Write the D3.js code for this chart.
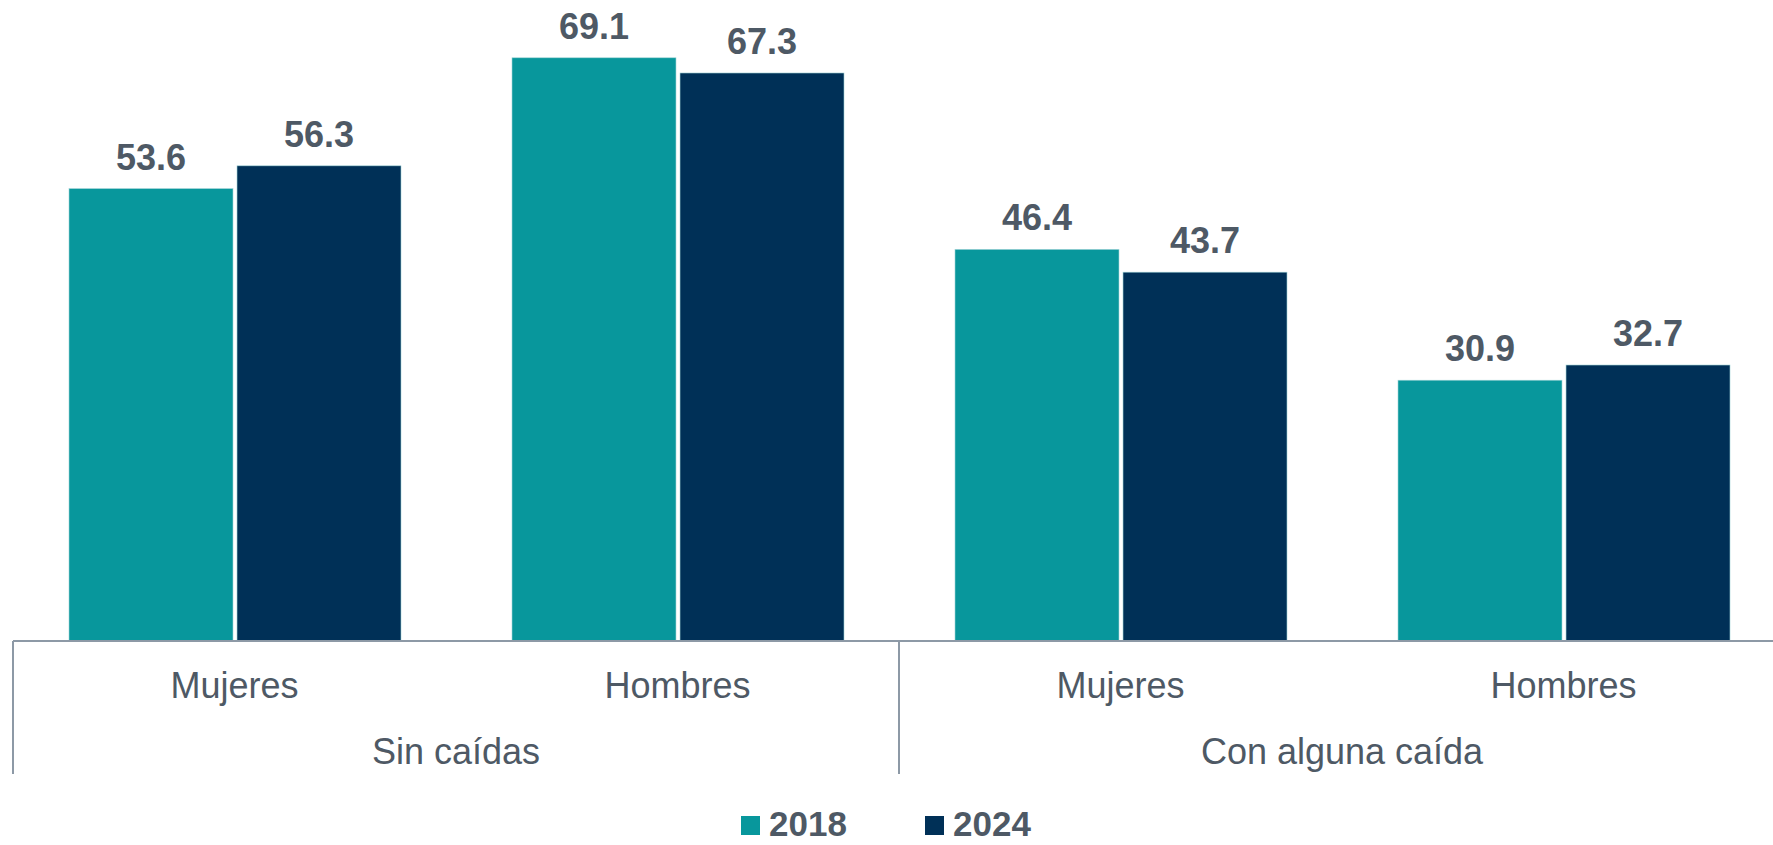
<!DOCTYPE html>
<html>
<head>
<meta charset="utf-8">
<script src="https://cdn.jsdelivr.net/npm/d3@7"></script>
<style>
  html, body { margin: 0; padding: 0; background: #fff; }
  svg { display: block; font-family: Arial, "Liberation Sans", sans-serif; }
</style>
</head>
<body>
<svg id="chart" width="1773" height="845"></svg>
<script>
// Данные
const groups = ['Sin caídas', 'Con alguna caída'];
const sexes = ['Mujeres', 'Hombres'];
const years = ['2018', '2024'];
const values2018 = [53.6, 69.1, 46.4, 30.9];
const values2024 = [56.3, 67.3, 43.7, 32.7];

const COLORS = { '2018': '#08979c', '2024': '#003057' };
const TEXT_COLOR = '#4e5965';
const AXIS_COLOR = '#8d99a6';

const width = 1773;
const plotRight = 1785; // область графика немного выходит за правый край
const axisY = 641;
const left = 13;

const svg = d3.select('#chart');

// Категории: группа × пол
const categories = [];
groups.forEach((g, gi) => sexes.forEach((s, si) => {
    categories.push({ key: g + '|' + s, group: g, sex: s, idx: gi * sexes.length + si });
}));

const x0 = d3.scaleBand()
    .domain(categories.map(c => c.key))
    .range([left, plotRight])
    .padding(0);

const x1 = d3.scaleBand()
    .domain(years)
    .range([56, x0.bandwidth() - 55])
    .paddingInner(0.024);

const y = d3.scaleLinear()
    .domain([0, 69.1])
    .range([axisY, 57.8]);

const seriesValues = { '2018': values2018, '2024': values2024 };

// Столбцы
const catG = svg.selectAll('g.cat')
    .data(categories)
    .join('g')
    .attr('class', 'cat')
    .attr('transform', d => `translate(${x0(d.key)},0)`);

catG.selectAll('rect')
    .data(d => years.map(yr => ({ year: yr, value: seriesValues[yr][d.idx] })))
    .join('rect')
    .attr('x', d => x1(d.year))
    .attr('y', d => y(d.value))
    .attr('width', x1.bandwidth())
    .attr('height', d => axisY - y(d.value))
    .attr('fill', d => COLORS[d.year])
    .attr('stroke', '#9fd3d6')
    .attr('stroke-width', 0.6);

// Подписи значений
catG.selectAll('text.val')
    .data(d => years.map(yr => ({ year: yr, value: seriesValues[yr][d.idx] })))
    .join('text')
    .attr('class', 'val')
    .attr('x', d => x1(d.year) + x1.bandwidth() / 2)
    .attr('y', d => y(d.value) - 19)
    .attr('text-anchor', 'middle')
    .attr('font-size', 36)
    .attr('font-weight', 'bold')
    .attr('fill', TEXT_COLOR)
    .text(d => d.value.toFixed(1));

// Ось
svg.append('line')
    .attr('x1', left).attr('x2', width)
    .attr('y1', axisY).attr('y2', axisY)
    .attr('stroke', AXIS_COLOR)
    .attr('stroke-width', 2);

// Подписи пола
svg.selectAll('text.sex')
    .data(categories)
    .join('text')
    .attr('class', 'sex')
    .attr('x', d => x0(d.key) + x0.bandwidth() / 2)
    .attr('y', 698)
    .attr('text-anchor', 'middle')
    .attr('font-size', 36)
    .attr('fill', TEXT_COLOR)
    .text(d => d.sex);

// Подписи групп и разделители
const groupSpan = x0.bandwidth() * sexes.length;
svg.selectAll('text.group')
    .data(groups)
    .join('text')
    .attr('class', 'group')
    .attr('x', (d, i) => left + groupSpan * i + groupSpan / 2)
    .attr('y', 764)
    .attr('text-anchor', 'middle')
    .attr('font-size', 36)
    .attr('fill', TEXT_COLOR)
    .text(d => d);

svg.selectAll('line.sep')
    .data(d3.range(groups.length + 1))
    .join('line')
    .attr('class', 'sep')
    .attr('x1', i => left + groupSpan * i)
    .attr('x2', i => left + groupSpan * i)
    .attr('y1', axisY)
    .attr('y2', 774)
    .attr('stroke', AXIS_COLOR)
    .attr('stroke-width', 2);

// Легенда
const legendX = [741, 925];
const legend = svg.selectAll('g.legend')
    .data(years)
    .join('g')
    .attr('class', 'legend')
    .attr('transform', (d, i) => `translate(${legendX[i]},0)`);

legend.append('rect')
    .attr('x', 0).attr('y', 816)
    .attr('width', 19).attr('height', 19)
    .attr('fill', d => COLORS[d]);

legend.append('text')
    .attr('x', 28).attr('y', 836)
    .attr('font-size', 35)
    .attr('font-weight', 'bold')
    .attr('fill', TEXT_COLOR)
    .text(d => d);
</script>
</body>
</html>
